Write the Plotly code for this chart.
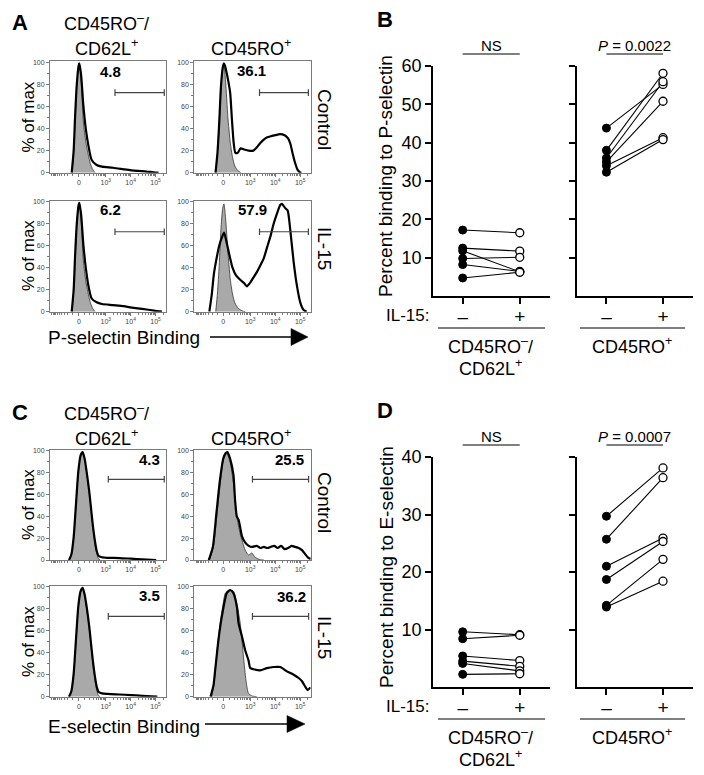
import numpy as np
import plotly.graph_objects as go

W, H = 704, 775
FONT = "Liberation Sans, Arial, Helvetica, sans-serif"

# ---------------- flow histograms: x = display channel (0-1005), y = % of max ----------------
A1_iso = [(190, 0), (205, 18), (218, 48), (233, 80), (248, 96), (256, 97), (272, 80), (289, 46), (310, 28),
          (332, 16), (350, 8), (370, 3), (390, 0)]
A1_stain = [(188, 0), (205, 20), (217, 50), (232, 80), (248, 97), (254, 99), (270, 88), (289, 61), (310, 40),
            (332, 25), (361, 11.5), (404, 7), (450, 5.5), (546, 4.5), (693, 2.4), (837, 1), (900, 0.3), (940, 0)]
A2_iso = [(185, 0), (200, 17), (215, 42), (230, 75), (245, 94), (256, 97), (270, 83), (290, 50), (310, 28),
          (330, 14), (350, 6), (375, 2), (400, 0)]
A2_stain = [(183, 0), (200, 18), (215, 45), (230, 78), (245, 95), (255, 99), (265, 97), (280, 90), (295, 82),
            (310, 72), (325, 48), (340, 27), (355, 18), (375, 18), (400, 22), (430, 21), (470, 20), (510, 20),
            (540, 23), (570, 27), (600, 30), (630, 32), (660, 33), (700, 34), (740, 35), (780, 34), (810, 31),
            (830, 26), (850, 17), (870, 9), (890, 3), (910, 0.5), (925, 0)]
A3_iso = [(190, 0), (205, 18), (218, 48), (233, 80), (248, 96), (256, 97), (272, 80), (289, 46), (310, 28),
          (332, 16), (350, 8), (370, 3), (390, 0)]
A3_stain = [(188, 0), (205, 20), (217, 50), (232, 80), (248, 97), (254, 99), (270, 88), (289, 61), (310, 40),
            (332, 24), (361, 12), (404, 8.5), (450, 7), (546, 6), (640, 5), (693, 4), (760, 3), (837, 2),
            (900, 1), (950, 0.3), (970, 0)]
A4_iso = [(185, 0), (200, 17), (215, 42), (230, 75), (245, 94), (256, 98), (270, 85), (290, 55), (310, 30),
          (330, 16), (350, 8), (380, 3), (420, 0.5), (440, 0)]
A4_stain = [(130, 0), (150, 15), (170, 35), (195, 50), (215, 60), (240, 68), (257, 72), (275, 65), (300, 53),
            (330, 40), (360, 33), (396, 29), (430, 26), (454, 23), (480, 26), (510, 31), (540, 36), (570, 42),
            (598, 48), (627, 58), (656, 68), (685, 80), (713, 89), (742, 97), (757, 98), (786, 94), (806, 92),
            (829, 74), (858, 45), (887, 23), (916, 8), (944, 1.5), (970, 0)]
C1_iso = [(165, 0), (185, 5), (205, 20), (225, 50), (245, 80), (265, 95), (283, 98), (300, 92), (320, 78),
          (340, 62), (352, 50), (370, 32), (390, 15), (405, 6), (420, 1), (435, 0)]
C1_stain = [(165, 0), (185, 5), (205, 21), (225, 51), (245, 81), (265, 96), (283, 99), (300, 93), (320, 79),
            (340, 63), (352, 51), (370, 33), (390, 17), (405, 8), (420, 4), (450, 2.5), (500, 2), (600, 1.8),
            (700, 1.2), (800, 0.6), (880, 0.2), (920, 0)]
C2_iso = [(130, 0), (165, 12), (194, 40), (223, 70), (251, 92), (280, 98), (309, 90), (338, 70), (367, 40),
          (396, 24), (440, 9), (468, 4.5), (497, 6.5), (520, 3), (540, 1.5), (570, 0.3), (600, 0)]
C2_stain = [(125, 0), (160, 12), (190, 42), (220, 72), (250, 93), (270, 98), (285, 99), (309, 93), (338, 78),
            (352, 55), (367, 40), (382, 37), (396, 30), (411, 22), (440, 16), (470, 13), (500, 12), (540, 13),
            (570, 11), (600, 12), (630, 11), (660, 12), (690, 13), (720, 11), (750, 13), (780, 10), (810, 11),
            (840, 13), (870, 12), (900, 11), (930, 9), (960, 5), (985, 2), (1005, 1)]
C3_iso = [(165, 0), (185, 5), (205, 20), (225, 50), (245, 80), (265, 95), (283, 98), (300, 92), (320, 78),
          (340, 62), (352, 50), (370, 32), (390, 15), (405, 6), (420, 1), (435, 0)]
C3_stain = [(165, 0), (185, 5), (205, 21), (225, 52), (245, 82), (265, 96), (283, 99), (300, 93), (320, 80),
            (340, 64), (352, 52), (370, 34), (390, 18), (405, 9), (420, 4.5), (450, 3), (500, 2.5), (600, 2),
            (700, 1.5), (800, 0.8), (880, 0.3), (930, 0)]
C4_iso = [(150, 0), (170, 12), (194, 39), (223, 67), (250, 85), (267, 94), (300, 97), (338, 96), (367, 85),
          (396, 67), (425, 36), (446, 15), (468, 3), (500, 0.6), (540, 0)]
C4_stain = [(140, 0), (165, 10), (180, 24), (209, 52), (238, 73), (280, 94), (309, 97), (338, 94), (367, 82),
            (382, 67), (411, 55), (440, 42), (468, 33), (483, 26), (511, 25), (569, 24), (627, 26), (684, 27),
            (742, 27), (800, 23), (858, 20), (901, 17), (930, 14), (959, 9), (979, 6), (1002, 8.5)]

hist_iso = [A1_iso, A2_iso, A3_iso, A4_iso, C1_iso, C2_iso, C3_iso, C4_iso]
hist_stain = [A1_stain, A2_stain, A3_stain, A4_stain, C1_stain, C2_stain, C3_stain, C4_stain]
hist_pct = [4.8, 36.1, 6.2, 57.9, 4.3, 25.5, 3.5, 36.2]
gate_lo = [563, 563, 563, 563, 505, 502, 505, 502]
gate_hi = [990, 985, 990, 985, 990, 987, 990, 987]
gate_y = [72.5, 72.5, 72.7, 72.7, 74, 74, 73, 73]
pct_label_x = [520, 497, 520, 505, 866, 823, 866, 840]
pct_label_y = [92, 93, 93, 93, 92, 92, 92, 91]

fluor_ticks = [0, 1e3, 1e4, 1e5]
fluor_tick_text = ["0", "10<sup>3</sup>", "10<sup>4</sup>", "10<sup>5</sup>"]
pct_ticks = [0, 20, 40, 60, 80, 100]
row_labels = ["Control", "IL-15"]
col_titles_top = ["CD45RO<sup>–</sup>/", ""]
col_titles_bot = ["CD62L<sup>+</sup>", "CD45RO<sup>+</sup>"]
binding_labels = ["P-selectin Binding", "E-selectin Binding"]

# ---------------- paired dot plots ----------------
il15 = ["–", "+"]
group_top = ["CD45RO<sup>–</sup>/", "CD45RO<sup>+</sup>"]
group_bot = ["CD62L<sup>+</sup>", ""]
B_naive_ctrl = [17.2, 12.5, 11.8, 9.8, 8.2, 4.7]
B_naive_il15 = [16.5, 11.7, 6.3, 10.1, 6.4, 6.2]
B_mem_ctrl = [43.8, 38.0, 36.0, 35.0, 34.0, 32.3]
B_mem_il15 = [55.2, 58.1, 55.9, 50.8, 41.3, 40.8]
D_naive_ctrl = [9.6, 8.4, 5.4, 4.5, 4.1, 2.2]
D_naive_il15 = [9.1, 9.0, 4.6, 3.6, 2.8, 2.3]
D_mem_ctrl = [29.7, 25.7, 21.0, 18.7, 14.2, 13.9]
D_mem_il15 = [38.1, 36.4, 25.9, 25.3, 22.2, 18.4]
B_stats = ["NS", "<i>P</i> = 0.0022"]
D_stats = ["NS", "<i>P</i> = 0.0007"]
B_yticks = [10, 20, 30, 40, 50, 60]
D_yticks = [10, 20, 30, 40]
y_titles = ["Percent binding to P-selectin", "Percent binding to E-selectin"]


def logicle(v):
    v = np.asarray(v, dtype=float)
    return 250 + 93.8 * np.arcsinh(v / 168.0)


minor_fluor = ([-100 * k for k in range(1, 11)] + [100 * k for k in range(1, 10)] +
               [m * 10 ** e for e in (3, 4) for m in range(2, 10)] + [2e5])

fig = go.Figure()
layout = dict(template="none", width=W, height=H,
              margin=dict(l=0, r=0, t=0, b=0, pad=0, autoexpand=False),
              paper_bgcolor="white", plot_bgcolor="white", showlegend=False,
              font=dict(family=FONT, color="black"))
annotations = []
shapes = []


def px(x):
    return x / W


def py(y):
    return 1 - y / H


def ann(text, x, y, size, xanchor="center", yanchor="middle", **kw):
    d = dict(text=text, x=px(x), y=py(y), xref="paper", yref="paper", showarrow=False,
             xanchor=xanchor, yanchor=yanchor,
             font=dict(size=size, family=FONT, color="black"))
    d.update(kw)
    annotations.append(d)


# ---------------- histograms ----------------
hist_boxes = [(50, 166, 62.3, 172.7), (194.3, 310.7, 62.3, 172.7), (50, 166, 201.7, 311.7),
              (194.3, 310.7, 201.7, 311.7), (50, 166, 451, 560), (194.3, 310.7, 451, 560),
              (50, 166, 586.7, 696.7), (194.3, 310.7, 586.7, 696.7)]
for i, (l, r, t, b) in enumerate(hist_boxes):
    n = i + 1
    xa, ya = f"x{n}", f"y{n}"
    iso = hist_iso[i]
    st = hist_stain[i]
    fig.add_trace(go.Scatter(x=[p[0] for p in iso], y=[p[1] for p in iso], mode="lines",
                             line=dict(color="#333", width=0.8, shape="spline", smoothing=0.6),
                             fill="tozeroy", fillcolor="#a9a9a9", xaxis=xa, yaxis=ya, hoverinfo="skip"))
    fig.add_trace(go.Scatter(x=[p[0] for p in st], y=[p[1] for p in st], mode="lines",
                             line=dict(color="black", width=2.2, shape="spline", smoothing=0.6),
                             xaxis=xa, yaxis=ya, hoverinfo="skip"))
    layout[f"xaxis{n}"] = dict(domain=[px(l), px(r)], range=[0, 1005], anchor=ya, showline=True, mirror=True,
                               linecolor="#7a7a7a", linewidth=1, ticks="outside", ticklen=3, tickwidth=1,
                               tickcolor="#7a7a7a", tickmode="array", tickvals=list(logicle(fluor_ticks)),
                               ticktext=fluor_tick_text, tickfont=dict(size=7, color="#444", family=FONT),
                               showgrid=False, zeroline=False, automargin=False,
                               minor=dict(tickmode="array", tickvals=list(logicle(minor_fluor)), ticklen=2,
                                          ticks="outside", tickcolor="#7a7a7a", showgrid=False))
    layout[f"yaxis{n}"] = dict(domain=[py(b), py(t - 1.1)], range=[0, 101], anchor=xa, showline=True,
                               mirror=True, linecolor="#7a7a7a", linewidth=1, ticks="outside", ticklen=3,
                               tickcolor="#7a7a7a", tickmode="array", tickvals=pct_ticks,
                               tickfont=dict(size=7, color="#444", family=FONT), showgrid=False,
                               zeroline=False, automargin=False,
                               minor=dict(tickmode="array", tickvals=[10, 30, 50, 70, 90], ticklen=2,
                                          ticks="outside", tickcolor="#7a7a7a", showgrid=False))
    # gate
    shapes.append(dict(type="line", xref=xa, yref=ya, x0=gate_lo[i], x1=gate_hi[i], y0=gate_y[i],
                       y1=gate_y[i], line=dict(color="#444", width=1.2)))
    for gx in (gate_lo[i], gate_hi[i]):
        shapes.append(dict(type="line", xref=xa, yref=ya, x0=gx, x1=gx, y0=gate_y[i] - 3, y1=gate_y[i] + 3,
                           line=dict(color="#444", width=1.2)))
    annotations.append(dict(text=f"<b>{hist_pct[i]}</b>", x=pct_label_x[i], y=pct_label_y[i], xref=xa, yref=ya,
                            showarrow=False, xanchor="center", yanchor="middle",
                            font=dict(size=15, family=FONT, color="black")))

# histogram panel text
for off_title, letter, lbl, arrow_y, text_y, row_cent in [
        (0, "A", binding_labels[0], 337, 337, [(119, 117.5), (248, 256)]),
        (390, "C", binding_labels[1], 724, 726, [(502, 505), (637, 642)])]:
    ann(f"<b>{letter}</b>", 10, 22 + off_title, 22, xanchor="left")
    ann(col_titles_top[0], 106, 22 + off_title, 18)
    ann(col_titles_bot[0], 106, 47 + off_title, 18)
    ann(col_titles_bot[1], 251, 47 + off_title, 18)
    for k, (cy_lbl, cy_axis) in enumerate(row_cent):
        ann(row_labels[k], 325, cy_lbl, 19, textangle=90)
        ann("% of max", 28, cy_axis, 17, textangle=-90)
    ann(lbl, 46, text_y, 19, xanchor="left")
    x_line0 = 210 if letter == "A" else 205
    x_head0 = 291 if letter == "A" else 287
    x_tip = 308 if letter == "A" else 305
    shapes.append(dict(type="line", xref="paper", yref="paper", x0=px(x_line0), x1=px(x_head0 + 2),
                       y0=py(arrow_y), y1=py(arrow_y), line=dict(color="black", width=1.6)))
    shapes.append(dict(type="path", xref="paper", yref="paper",
                       path=f"M {px(x_head0)} {py(arrow_y - 8.5)} L {px(x_tip)} {py(arrow_y)} "
                            f"L {px(x_head0)} {py(arrow_y + 8.5)} Z",
                       fillcolor="black", line=dict(color="black", width=0.5)))

# ---------------- dot plots ----------------
dot_boxes = [(433, 550, 66, 296), (577, 693, 66, 296), (433, 550, 457, 687), (577, 693, 457, 687)]
dot_data = [(B_naive_ctrl, B_naive_il15), (B_mem_ctrl, B_mem_il15),
            (D_naive_ctrl, D_naive_il15), (D_mem_ctrl, D_mem_il15)]
for j, (l, r, t, b) in enumerate(dot_boxes):
    n = 9 + j
    xa, ya = f"x{n}", f"y{n}"
    ctrl, trt = dot_data[j]
    lx, ly = [], []
    for a, c in zip(ctrl, trt):
        lx += [0, 1, None]
        ly += [a, c, None]
    fig.add_trace(go.Scatter(x=lx, y=ly, mode="lines", line=dict(color="black", width=1.1),
                             xaxis=xa, yaxis=ya, hoverinfo="skip"))
    fig.add_trace(go.Scatter(x=[0] * len(ctrl), y=ctrl, mode="markers",
                             marker=dict(color="black", size=8, line=dict(color="black", width=1)),
                             xaxis=xa, yaxis=ya, hoverinfo="skip"))
    fig.add_trace(go.Scatter(x=[1] * len(trt), y=trt, mode="markers",
                             marker=dict(color="white", size=8, line=dict(color="black", width=1.3)),
                             xaxis=xa, yaxis=ya, hoverinfo="skip"))
    is_B = j < 2
    yt = B_yticks if is_B else D_yticks
    layout[f"xaxis{n}"] = dict(domain=[px(l), px(r)], range=[-0.52, 1.53], anchor=ya, showline=True,
                               linecolor="black", linewidth=1.6, ticks="outside", ticklen=6, tickwidth=1.6,
                               tickcolor="black", tickmode="array", tickvals=[0, 1], ticktext=il15,
                               ticklabelstandoff=-4,
                               tickfont=dict(size=19, family=FONT, color="black"), showgrid=False,
                               zeroline=False, automargin=False)
    layout[f"yaxis{n}"] = dict(domain=[py(b), py(t)], range=[0, yt[-1]], anchor=xa, showline=True,
                               linecolor="black", linewidth=1.6, ticks="outside", ticklen=6, tickwidth=1.6,
                               tickcolor="black", tickmode="array", tickvals=yt,
                               showticklabels=(j % 2 == 0),
                               tickfont=dict(size=18, family=FONT, color="black"), showgrid=False,
                               zeroline=False, automargin=False)
    stats = B_stats if is_B else D_stats
    off = 0 if is_B else 391
    shapes.append(dict(type="line", xref=xa, yref="paper", x0=0, x1=1, y0=py(54 + off), y1=py(54 + off),
                       line=dict(color="black", width=1.1)))
    annotations.append(dict(text=stats[j % 2], x=0.5, y=py(45 + off), xref=xa, yref="paper", showarrow=False,
                            xanchor="center", yanchor="middle",
                            font=dict(size=15, family=FONT, color="black")))

for off, letter, ytitle in [(0, "B", y_titles[0]), (391, "D", y_titles[1])]:
    ann(f"<b>{letter}</b>", 375, 20 + off, 22, xanchor="left")
    ann(ytitle, 386, 176 + off, 19, textangle=-90)
    ann("IL-15:", 431, 315 + off, 17, xanchor="right")
    for (x0, x1) in [(438, 545), (580, 685)]:
        shapes.append(dict(type="line", xref="paper", yref="paper", x0=px(x0), x1=px(x1), y0=py(328 + off),
                           y1=py(328 + off), line=dict(color="black", width=1.1)))
    ann(group_top[0], 491, 345 + off, 18)
    ann(group_bot[0], 491, 367 + off, 18)
    ann(group_top[1], 632, 345 + off, 18)

layout["annotations"] = annotations
layout["shapes"] = shapes
fig.update_layout(**layout)
fig.write_html("out.html", config={"displayModeBar": False},
               post_script="document.body.style.margin='0px';")
